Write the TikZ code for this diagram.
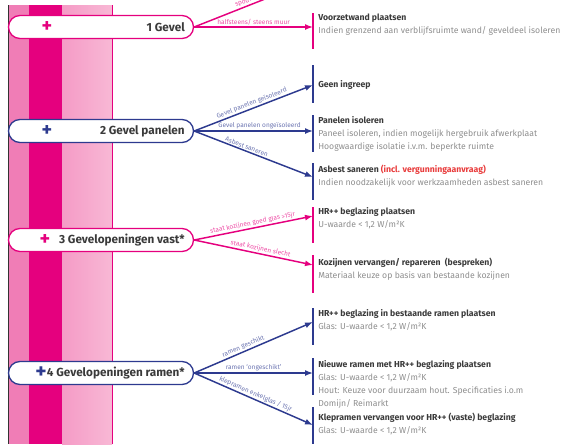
\documentclass[tikz,border=0pt]{standalone}
\usepackage{fontspec}
\setmainfont{Fira Sans}
\usetikzlibrary{arrows.meta}

\definecolor{roze}{HTML}{E5007E}
\definecolor{rozelicht}{HTML}{F07DB6}
\definecolor{rozebleek}{HTML}{F59BC6}
\definecolor{rozewit}{HTML}{F8B8D5}
\definecolor{blauw}{HTML}{2D3A8F}
\definecolor{donker}{HTML}{3A3A3A}
\definecolor{grijs}{HTML}{8E8E8E}
\definecolor{rood}{HTML}{E83A3A}

\tikzset{
  stap/.style={draw=#1, fill=white, line width=1pt, rounded corners=8.6pt,
    minimum width=138.75pt, minimum height=17.25pt, inner sep=0pt},
  plus/.style={font=\fontsize{15}{15}\selectfont\bfseries, text=#1, inner sep=0pt},
  titel/.style={font=\fontsize{8.8}{8.8}\selectfont\bfseries, text=donker, anchor=east, inner sep=0pt},
  lijn/.style={draw=#1, line width=1.1pt, ->},
  pijltekst/.style={font=\fontsize{4.9}{5}\selectfont, text=#1!70!white, sloped, above, inner sep=0.8pt},
  balk/.style={draw=#1, line width=1.4pt},
  uitleg/.style={anchor=north west, align=left, inner sep=0pt,
    font=\fontsize{6.5}{9.6}\selectfont, text=grijs},
}
\newcommand{\kop}[1]{{\bfseries\color{donker}#1}}

\begin{document}
\begin{tikzpicture}[>={Latex[length=6pt,width=4.5pt]}, x=0.75pt, y=-0.75pt] % 1 eenheid = 1 pixel
  \useasboundingbox (0,0) rectangle (567,444);
  \clip (0,0) rectangle (567,444);
  % banen links
  \fill[rozelicht] (8,5) rectangle (29,444);
  \fill[roze] (29,5) rectangle (62,444);
  \shade[left color=rozebleek, right color=rozewit] (62,5) rectangle (112,444);
  \draw[roze, line width=1pt] (112.5,5) -- (112.5,444);
  \draw[black!80, line width=0.6pt] (8,5) -- (8,444);

  % hoofdstappen
  \node[stap=roze] (g1) at (101,27) {};
  \node[plus=roze] (p1) at (47,27) {+};
  \node[titel] (n1) at (185,27) {1 Gevel};

  \node[stap=blauw] (g2) at (101,131) {};
  \node[plus=blauw] (p2) at (47,131) {+};
  \node[titel] (n2) at (185,131) {2 Gevel panelen};

  \node[stap=roze] (g3) at (101,240) {};
  \node[plus=roze] (p3) at (45,240) {+};
  \node[titel] (n3) at (185,240) {3 Gevelopeningen vast*};

  \node[stap=blauw] (g4) at (101,373) {};
  \node[plus=blauw, font=\fontsize{16}{16}\selectfont\bfseries] (p4) at (41,373) {+};
  \node[titel] (n4) at (185,373) {4 Gevelopeningen ramen*};

  % eindpunten op de balken
  \coordinate (t0) at (313,-20);
  \coordinate (t1) at (313,27);
  \coordinate (t2a) at (313,85);
  \coordinate (t2b) at (313,131);
  \coordinate (t2c) at (313,177);
  \coordinate (t3a) at (313,216);
  \coordinate (t3b) at (313,265);
  \coordinate (t4a) at (313,322);
  \coordinate (t4b) at (313,373);
  \coordinate (t4c) at (313,425);

  % balken
  \draw[balk=roze] (313,13) -- (313,49);
  \draw[balk=blauw] (313,65) -- (313,103);
  \draw[balk=blauw] (313,115) -- (313,152);
  \draw[balk=blauw] (313,163) -- (313,200);
  \draw[balk=roze] (313,207) -- (313,243);
  \draw[balk=roze] (313,255) -- (313,293);
  \draw[balk=blauw] (313,308) -- (313,345);
  \draw[balk=blauw] (313,358) -- (313,395);
  \draw[balk=blauw] (313,407) -- (313,444);

  % pijlen
  \draw[lijn=roze] (g1.east) -- (t0) node[pijltekst=roze, midway] {spouwmuur};
  \draw[lijn=roze] (g1.east) -- (t1) node[pijltekst=roze, midway] {halfsteens/ steens muur};
  \draw[lijn=blauw] (g2.east) -- (t2a) node[pijltekst=blauw, midway] {Gevel panelen geïsoleerd};
  \draw[lijn=blauw] (g2.east) -- (t2b) node[pijltekst=blauw, pos=.55] {Gevel panelen ongeïsoleerd};
  \draw[lijn=blauw] (g2.east) -- (t2c) node[pijltekst=blauw, pos=.43] {Asbest saneren};
  \draw[lijn=roze] (g3.east) -- (t3a) node[pijltekst=roze, midway] {staat kozijnen goed glas >15jr};
  \draw[lijn=roze] (g3.east) -- (t3b) node[pijltekst=roze, pos=.55] {staat kozijnen slecht};
  \draw[lijn=blauw] (g4.east) -- (t4a) node[pijltekst=blauw, pos=.43] {ramen geschikt};
  \draw[lijn=blauw] (g4.east) -- (t4b) node[pijltekst=blauw, midway] {ramen `ongeschikt'};
  \draw[lijn=blauw] (g4.east) -- (t4c) node[pijltekst=blauw, midway] {klepramen enkelglas / 15jr};

  % teksten
  \node[uitleg] (u1) at (318,13.5) {\kop{Voorzetwand plaatsen}\\
    Indien grenzend aan verblijfsruimte wand/ geveldeel isoleren};
  \node[uitleg] (u2a) at (318,80.5) {\kop{Geen ingreep}};
  \node[uitleg] (u2b) at (318,116.5) {\kop{Panelen isoleren}\\
    Paneel isoleren, indien mogelijk hergebruik afwerkplaat\\
    Hoogwaardige isolatie i.v.m. beperkte ruimte};
  \node[uitleg] (u2c) at (318,164.5) {\kop{Asbest saneren {\color{rood}(incl. vergunningaanvraag)}}\\
    Indien noodzakelijk voor werkzaamheden asbest saneren};
  \node[uitleg] (u3a) at (318,207.5) {\kop{HR++ beglazing plaatsen}\\
    U-waarde < 1,2 W/m²K};
  \node[uitleg] (u3b) at (318,257.5) {\kop{Kozijnen vervangen/ repareren~ (bespreken)}\\
    Materiaal keuze op basis van bestaande kozijnen};
  \node[uitleg] (u4a) at (318,309.5) {\kop{HR++ beglazing in bestaande ramen plaatsen}\\
    Glas: U-waarde < 1,2 W/m²K};
  \node[uitleg] (u4b) at (318,360.5) {\kop{Nieuwe ramen met HR++ beglazing plaatsen}\\
    Glas: U-waarde < 1,2 W/m²K\\
    Hout: Keuze voor duurzaam hout. Specificaties i.o.m\\
    Domijn/ Reimarkt};
  \node[uitleg] (u4c) at (318,412.5) {\kop{Klepramen vervangen voor HR++ (vaste) beglazing}\\
    Glas: U-waarde < 1,2 W/m²K};
\end{tikzpicture}
\end{document}
